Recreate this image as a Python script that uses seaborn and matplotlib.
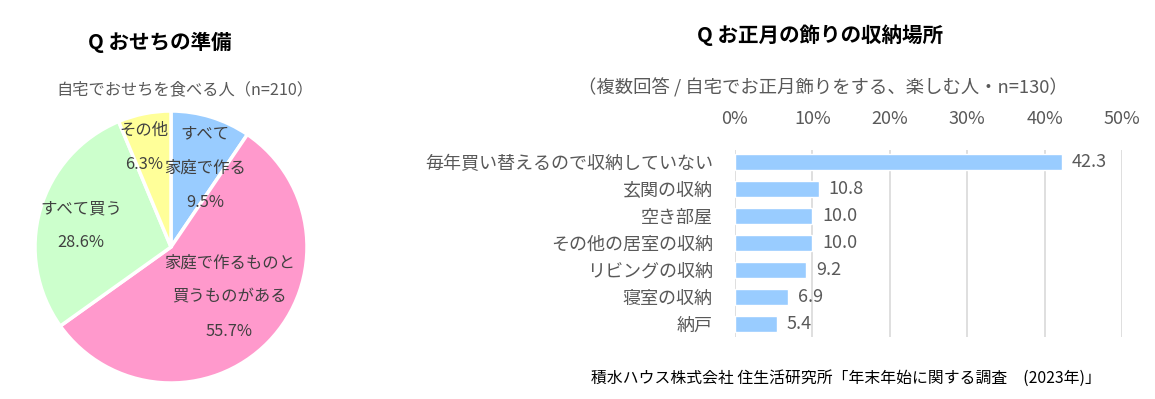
import numpy as np
import pandas as pd
import matplotlib
matplotlib.use("Agg")
import matplotlib.pyplot as plt
import seaborn as sns

# ---- data ----
pie_labels = ["すべて\n家庭で作る", "家庭で作るものと\n買うものがある", "すべて買う", "その他"]
pie_values = [9.5, 55.7, 28.6, 6.3]
pie_colors = ["#99CCFF", "#FF99CC", "#CCFFCC", "#FFFF99"]

bar_categories = ["毎年買い替えるので収納していない", "玄関の収納", "空き部屋",
                  "その他の居室の収納", "リビングの収納", "寝室の収納", "納戸"]
bar_values = [42.3, 10.8, 10.0, 10.0, 9.2, 6.9, 5.4]
x_ticks = [0, 10, 20, 30, 40, 50]
x_tick_labels = ["0%", "10%", "20%", "30%", "40%", "50%"]

sns.set_theme(style="white")
plt.rcParams['font.family'] = ['Noto Sans CJK JP', 'DejaVu Sans']

W, H = 1155, 399
fig = plt.figure(figsize=(W / 100, H / 100), dpi=100)
fig.patch.set_facecolor("white")

gray = "#595959"

# ---- pie ----
cx, cy, r = 171, 247, 136
ax1 = fig.add_axes([(cx - r) / W, (H - cy - r) / H, 2 * r / W, 2 * r / H])
wedges, _ = ax1.pie(pie_values, colors=pie_colors, startangle=90, counterclock=False,
                    wedgeprops=dict(edgecolor="white", linewidth=2.5))
ax1.set_xlim(-1, 1)
ax1.set_ylim(-1, 1)
ax1.set_aspect("equal")
ax1.axis("off")

# label offsets (in radius units)
label_pos = [(0.25, 0.58), (0.43, -0.37), (-0.66, 0.155), (-0.20, 0.73)]
for lab, v, (lx, ly) in zip(pie_labels, pie_values, label_pos):
    ax1.text(lx, ly, f"{lab}\n{v:.1f}%", ha="center", va="center", fontsize=11.8,
             color="#404040", linespacing=2.3)

fig.text(160 / W, 1 - 42 / H, "Q おせちの準備", ha="center", va="center",
         fontsize=14.8, fontweight="bold", color="black")
fig.text(185 / W, 1 - 90 / H, "自宅でおせちを食べる人（n=210）", ha="center", va="center",
         fontsize=11.7, color=gray)

# ---- bar ----
x0, x1, y0, y1 = 735, 1122, 150, 337
ax2 = fig.add_axes([x0 / W, (H - y1) / H, (x1 - x0) / W, (y1 - y0) / H])
df = pd.DataFrame({"cat": bar_categories, "val": bar_values})
sns.barplot(data=df, x="val", y="cat", orient="h", color="#99CCFF", width=0.6,
            saturation=1, ax=ax2)
ax2.set_xlim(0, 50)
ax2.set_ylim(6.48, -0.44)
ax2.set_xticks(x_ticks)
ax2.set_xticklabels(x_tick_labels)
ax2.xaxis.tick_top()
ax2.tick_params(axis="x", length=0, pad=16, labelsize=13, labelcolor=gray)
ax2.tick_params(axis="y", length=0, pad=16, labelsize=13, labelcolor=gray)
ax2.grid(axis="x", color="#D9D9D9", linewidth=1.2)
ax2.set_axisbelow(True)
for s in ax2.spines.values():
    s.set_visible(False)
ax2.set_xlabel("")
ax2.set_ylabel("")
for c in ax2.containers:
    ax2.bar_label(c, labels=[f"{v:.1f}" for v in bar_values], padding=7,
                  fontsize=13, color=gray)

fig.text(820 / W, 1 - 35 / H, "Q お正月の飾りの収納場所", ha="center", va="center",
         fontsize=14.8, fontweight="bold", color="black")
fig.text(823 / W, 1 - 88 / H, "（複数回答 / 自宅でお正月飾りをする、楽しむ人・n=130）",
         ha="center", va="center", fontsize=13.2, color=gray)
fig.text(846 / W, 1 - 378 / H, "積水ハウス株式会社 住生活研究所「年末年始に関する調査　(2023年)」",
         ha="center", va="center", fontsize=11.4, color="black")

fig.savefig("out.png", dpi=100, facecolor="white")
